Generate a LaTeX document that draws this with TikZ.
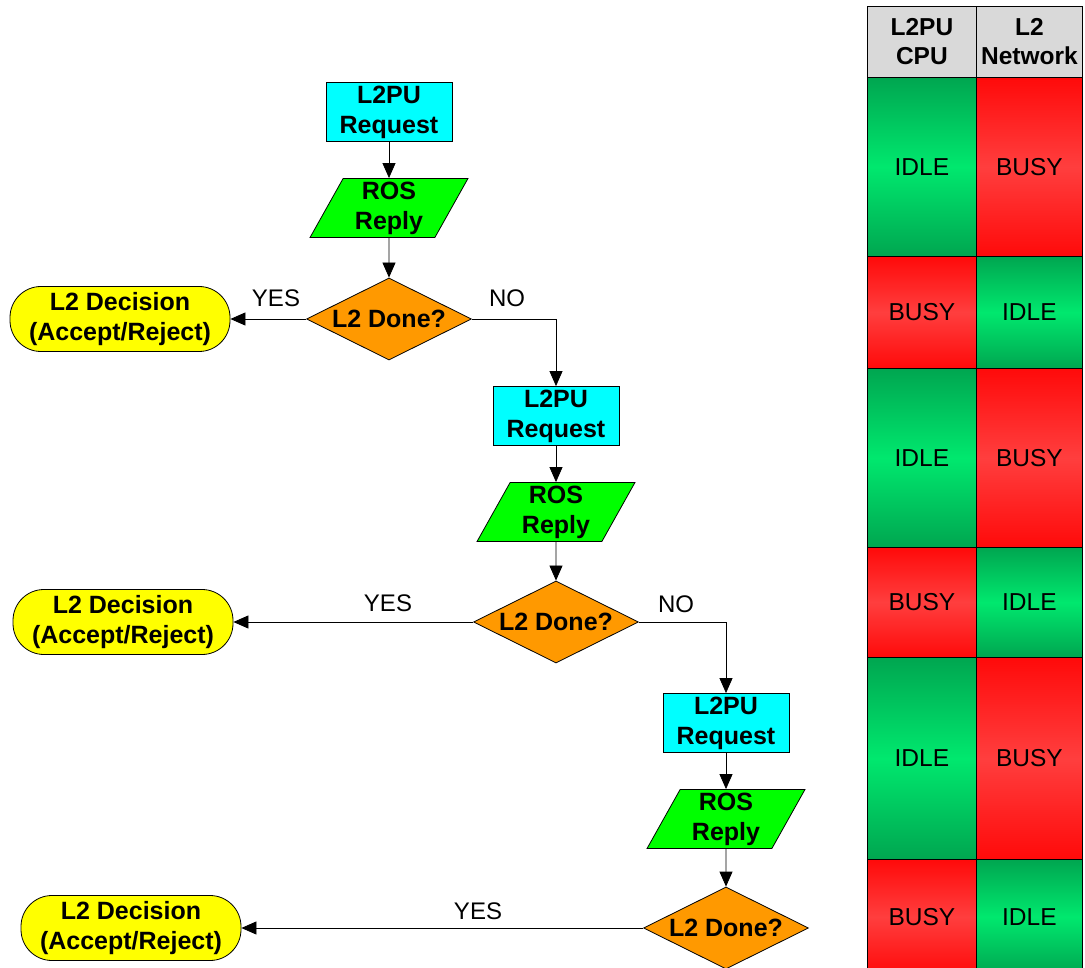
\documentclass[tikz,border=0pt]{standalone}
\usepackage{fontspec}
\setmainfont{Liberation Sans}
\usetikzlibrary{shapes.geometric,arrows.meta}

\definecolor{cyanbox}{RGB}{0,255,255}
\definecolor{greenbox}{RGB}{0,255,0}
\definecolor{orangebox}{RGB}{255,153,0}
\definecolor{yellowbox}{RGB}{255,255,0}
\definecolor{hdrgray}{RGB}{217,217,217}
\definecolor{gEdge}{RGB}{0,166,80}
\definecolor{gMid}{RGB}{0,232,110}
\definecolor{rEdge}{RGB}{255,10,10}
\definecolor{rMid}{RGB}{255,62,62}

\tikzset{
 lbl/.style={font=\fontsize{25}{30}\selectfont\bfseries, align=center, inner sep=0pt, line width=0.8pt},
 reqbox/.style={lbl, draw, fill=cyanbox, minimum width=126pt, minimum height=59pt},
 rosbox/.style={lbl, draw, fill=greenbox, trapezium, trapezium left angle=65, trapezium right angle=115, trapezium stretches=true, minimum width=158pt, minimum height=59pt},
 donebox/.style={lbl, draw, fill=orangebox, diamond, aspect=2, minimum width=165pt, minimum height=82pt},
 decbox/.style={lbl, draw, fill=yellowbox, rounded corners=31pt, minimum width=220pt, minimum height=65pt},
 arr/.style={-{Triangle[length=15pt,width=13pt]}, line width=0.8pt},
 edgelbl/.style={font=\fontsize{24}{28}\selectfont, inner sep=0pt},
 cell/.style={draw, line width=0.8pt, font=\fontsize{24.5}{29}\selectfont, inner sep=0pt, anchor=north west},
 idle/.style={cell, top color=gEdge, bottom color=gEdge, middle color=gMid},
 busy/.style={cell, top color=rEdge, bottom color=rEdge, middle color=rMid},
 hdr/.style={cell, fill=hdrgray, font=\fontsize{24.5}{29}\selectfont\bfseries, align=center}
}

\begin{document}
\begin{tikzpicture}[x=1pt,y=-1pt]
\useasboundingbox (0,0) rectangle (1085,968);

% column 1
\node[reqbox] (q1) at (389,112) {L2PU\\Request};
\node[rosbox] (r1) at (389,208) {ROS\\Reply};
\node[donebox] (d1) at (389,319) {L2 Done?};
\node[decbox] (e1) at (120,319) {L2 Decision\\(Accept/Reject)};
% column 2
\node[reqbox] (q2) at (556,416) {L2PU\\Request};
\node[rosbox] (r2) at (556,512) {ROS\\Reply};
\node[donebox] (d2) at (556,622) {L2 Done?};
\node[decbox] (e2) at (123,622) {L2 Decision\\(Accept/Reject)};
% column 3
\node[reqbox] (q3) at (726,723) {L2PU\\Request};
\node[rosbox] (r3) at (726,819) {ROS\\Reply};
\node[donebox] (d3) at (726,928) {L2 Done?};
\node[decbox] (e3) at (131,928) {L2 Decision\\(Accept/Reject)};

% connectors
\draw[arr] (q1) -- (r1);
\draw[arr] (r1) -- (d1);
\draw[arr] (d1) -- (e1);
\draw[arr] (d1.east) -| (q2.north);
\draw[arr] (q2) -- (r2);
\draw[arr] (r2) -- (d2);
\draw[arr] (d2) -- (e2);
\draw[arr] (d2.east) -| (q3.north);
\draw[arr] (q3) -- (r3);
\draw[arr] (r3) -- (d3);
\draw[arr] (d3) -- (e3);

% edge labels
\node[edgelbl] (y1) at (276,298) {YES};
\node[edgelbl] (n1) at (507,298) {NO};
\node[edgelbl] (y2) at (388,603) {YES};
\node[edgelbl] (n2) at (676,604) {NO};
\node[edgelbl] (y3) at (478,911) {YES};

% table
\node[hdr, minimum width=109pt, minimum height=71pt] (h1) at (867,6) {L2PU\\CPU};
\node[hdr, minimum width=106pt, minimum height=71pt] (h2) at (976,6) {L2\\Network};

\node[idle, minimum width=109pt, minimum height=179pt] (a1) at (867,77) {IDLE};
\node[busy, minimum width=106pt, minimum height=179pt] (b1) at (976,77) {BUSY};
\node[busy, minimum width=109pt, minimum height=112pt] (a2) at (867,256) {BUSY};
\node[idle, minimum width=106pt, minimum height=112pt] (b2) at (976,256) {IDLE};
\node[idle, minimum width=109pt, minimum height=179pt] (a3) at (867,368) {IDLE};
\node[busy, minimum width=106pt, minimum height=179pt] (b3) at (976,368) {BUSY};
\node[busy, minimum width=109pt, minimum height=110pt] (a4) at (867,547) {BUSY};
\node[idle, minimum width=106pt, minimum height=110pt] (b4) at (976,547) {IDLE};
\node[idle, minimum width=109pt, minimum height=202pt] (a5) at (867,657) {IDLE};
\node[busy, minimum width=106pt, minimum height=202pt] (b5) at (976,657) {BUSY};
\node[busy, minimum width=109pt, minimum height=115pt] (a6) at (867,859) {BUSY};
\node[idle, minimum width=106pt, minimum height=115pt] (b6) at (976,859) {IDLE};
\end{tikzpicture}
\end{document}
